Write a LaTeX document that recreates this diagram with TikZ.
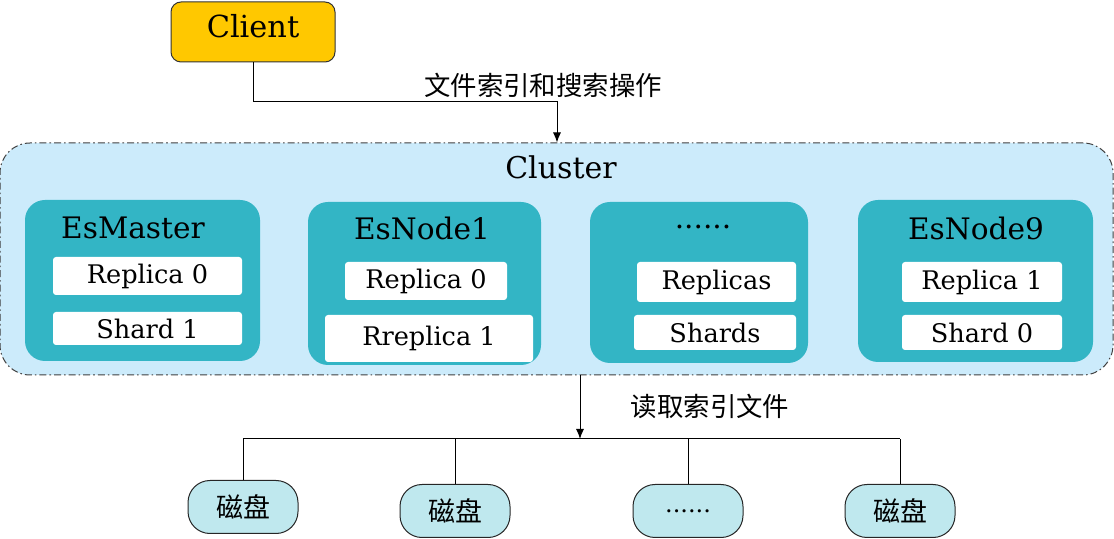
\documentclass[tikz,border=0pt]{standalone}
\usepackage{fontspec}
\setmainfont{DejaVu Serif}
\newfontfamily\cjk{Noto Sans CJK SC}
\usetikzlibrary{arrows.meta}

\definecolor{clientYellow}{HTML}{FFC800}
\definecolor{clusterBlue}{HTML}{CCEBFB}
\definecolor{nodeTeal}{HTML}{33B5C5}
\definecolor{diskCyan}{HTML}{BFE8EE}

\begin{document}
\begin{tikzpicture}[
        x=0.5pt, y=-0.5pt,
        >={Latex[length=5pt,width=4pt]},
        line width=0.5pt,
        clientBox/.style={draw=black!80, fill=clientYellow, rounded corners=5pt,
            minimum width=82pt, minimum height=30pt, inner sep=0pt, text depth=6pt,
            font=\fontsize{15.2}{18}\selectfont},
        clusterBox/.style={draw=black!75, fill=clusterBlue, rounded corners=15pt,
            dash pattern=on 3.5pt off 1.5pt on 0.8pt off 1.5pt,
            minimum width=556.5pt, minimum height=116pt, inner sep=0pt},
        esBox/.style={fill=nodeTeal, rounded corners=10pt, inner sep=0pt},
        slotBox/.style={fill=white, rounded corners=1.5pt, inner sep=0pt,
            font=\fontsize{12.8}{15}\selectfont},
        titleText/.style={inner sep=0pt, font=\fontsize{14.8}{18}\selectfont},
        cjkText/.style={inner sep=0pt, font=\cjk\fontsize{13.2}{16}\selectfont},
        diskBox/.style={draw=black!85, fill=diskCyan, rounded corners=11pt,
            minimum width=55pt, minimum height=26.5pt, inner sep=0pt,
            font=\cjk\fontsize{13.5}{16}\selectfont}
    ]
        \useasboundingbox (0,0) rectangle (1114,539);

        % Client
        \node[clientBox] (client) at (253,32) {Client};

        % Cluster frame
        \node[clusterBox] (cluster) at (556.5,259) {};
        \node[titleText, font=\fontsize{15}{18}\selectfont] (clusterTitle) at (561,167) {Cluster};

        % EsMaster
        \node[esBox, minimum width=117.5pt, minimum height=80.5pt] (esMaster) at (142.5,280.5) {};
        \node[titleText] (esMasterTitle) at (133,228) {EsMaster};
        \node[slotBox, minimum width=94.5pt, minimum height=19pt] (masterRep) at (147.5,276) {Replica 0};
        \node[slotBox, minimum width=94.5pt, minimum height=16.5pt] (masterShard) at (147.5,328.5) {Shard 1};

        % EsNode1
        \node[esBox, minimum width=116.5pt, minimum height=81.5pt] (esNodeA) at (424.5,283.5) {};
        \node[titleText] (esNodeATitle) at (422,228) {EsNode1};
        \node[slotBox, minimum width=81pt, minimum height=19pt] (nodeARep) at (426,281) {Replica 0};
        \node[slotBox, minimum width=104pt, minimum height=23.5pt] (nodeARepB) at (429,338.5) {Rreplica 1};

        % further nodes
        \node[esBox, minimum width=109pt, minimum height=80.5pt] (esMore) at (699,282.5) {};
        \node[titleText] (esMoreTitle) at (703,227) {......};
        \node[slotBox, minimum width=79.5pt, minimum height=20pt] (moreRep) at (716.5,282) {Replicas};
        \node[slotBox, minimum width=81pt, minimum height=17.5pt] (moreShard) at (715,332.5) {Shards};

        % EsNode9
        \node[esBox, minimum width=117.5pt, minimum height=81pt] (esNodeI) at (975.5,281) {};
        \node[titleText] (esNodeITitle) at (976,228) {EsNode9};
        \node[slotBox, minimum width=80pt, minimum height=20pt] (nodeIRep) at (982,282) {Replica 1};
        \node[slotBox, minimum width=80pt, minimum height=17.5pt] (nodeIShard) at (982,332.5) {Shard 0};

        % Client -> Cluster
        \coordinate (bendTop) at (557,102);
        \draw[->] (client.south) |- (bendTop) -- (bendTop |- cluster.north);
        \node[cjkText] (opLabel) at (543,85) {文件索引和搜索操作};

        % Disks
        \node[diskBox] (diskA) at (243,507) {磁盘};
        \node[diskBox] (diskB) at (455,511) {磁盘};
        \node[diskBox, font=\fontsize{12}{14}\selectfont] (diskC) at (688,511) {......};
        \node[diskBox] (diskD) at (900,511) {磁盘};

        % Cluster -> disks
        \coordinate (busIn) at (580,439);
        \draw[->] (busIn |- cluster.south) -- (busIn);
        \node[cjkText] (readLabel) at (710,406) {读取索引文件};
        \draw (diskA.north |- busIn) -- (diskD.north |- busIn);
        \foreach \d in {diskA,diskB,diskC,diskD}
            \draw (\d.north) -- (\d.north |- busIn);

    \end{tikzpicture}
\end{document}
